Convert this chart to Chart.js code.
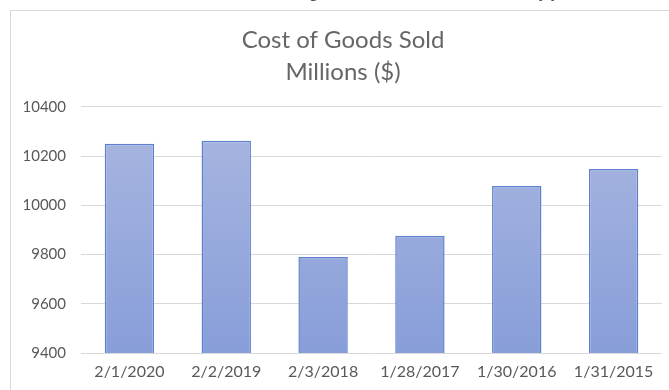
<!DOCTYPE html>
<html>
<head>
<meta charset="utf-8">
<script src="https://cdn.jsdelivr.net/npm/chart.js@4"></script>
<style>
  body { margin: 0; background: #fff; overflow: hidden; }
  #wrap { position: relative; width: 669px; height: 390px; }
  #note { position: absolute; left: 300px; top: -17px; font: 16px "Liberation Serif", serif; color: #222; white-space: nowrap; }
</style>
</head>
<body>
<div id="wrap">
  <div id="note">figures discussed in the table above by year</div>
  <canvas id="chart" width="669" height="390"></canvas>
</div>
<script>
var categorias = ['2/1/2020', '2/2/2019', '2/3/2018', '1/28/2017', '1/30/2016', '1/31/2015'];
var custos = [10250, 10262, 9790, 9876, 10078, 10147];
var titulo = ['Cost of Goods Sold', 'Millions ($)'];
var eixoMin = 9400, eixoMax = 10400, eixoPasso = 200;

var cinza = '#595959';

// moldura do grafico (so a borda de cima e a da esquerda aparecem)
var moldura = {
  id: 'moldura',
  beforeDraw: function(chart) {
    var ctx = chart.ctx;
    ctx.save();
    ctx.fillStyle = '#fff';
    ctx.fillRect(0, 0, chart.width, chart.height);
    ctx.strokeStyle = '#d9d9d9';
    ctx.lineWidth = 1;
    ctx.beginPath();
    ctx.moveTo(10.5, chart.height);
    ctx.lineTo(10.5, 10.5);
    ctx.lineTo(chart.width, 10.5);
    ctx.stroke();
    ctx.restore();
  },
  // o titulo fica centrado na moldura, que passa da borda direita
  afterLayout: function(chart) {
    if (chart.titleBlock) {
      chart.titleBlock.left += 12;
      chart.titleBlock.right += 12;
    }
  }
};

function gradiente(context) {
  var area = context.chart.chartArea;
  if (!area) return '#9aabdc';
  var g = context.chart.ctx.createLinearGradient(0, area.top, 0, area.bottom);
  g.addColorStop(0, '#aab7e0');
  g.addColorStop(1, '#889ed9');
  return g;
}

var chart = new Chart(document.getElementById('chart'), {
  type: 'bar',
  data: {
    labels: categorias,
    datasets: [{
      data: custos,
      backgroundColor: gradiente,
      borderColor: '#5f80cf',
      borderWidth: 1.5,
      categoryPercentage: 1,
      barPercentage: 0.51
    }]
  },
  options: {
    responsive: false,
    animation: false,
    layout: { padding: { top: 0, right: 7, bottom: 0, left: 0 } },
    plugins: {
      legend: { display: false },
      tooltip: { enabled: false },
      title: {
        display: true,
        text: titulo,
        color: '#666',
        font: { family: 'Lato', size: 24, weight: 'normal', lineHeight: 1.33 },
        padding: { top: 24, bottom: 19 }
      }
    },
    scales: {
      x: {
        grid: { display: false },
        border: { display: false },
        ticks: { color: cinza, font: { family: 'Lato', size: 16 }, padding: 1, maxRotation: 0 },
        afterFit: function(scale) { scale.height = 37; }
      },
      y: {
        min: eixoMin,
        max: eixoMax,
        grid: { color: '#d9d9d9', drawTicks: false },
        border: { display: false },
        ticks: {
          stepSize: eixoPasso, color: cinza, font: { family: 'Lato', size: 15 }, padding: 15,
          callback: function(v) { return String(v); }
        },
        afterFit: function(scale) { scale.width = 81; }
      }
    }
  },
  plugins: [moldura]
});
</script>
</body>
</html>
